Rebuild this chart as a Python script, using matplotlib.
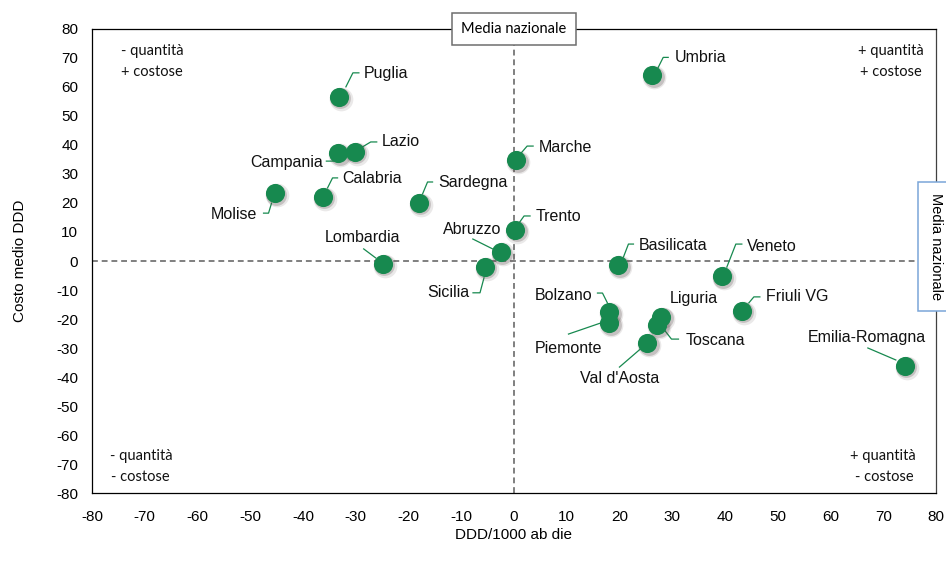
import matplotlib
matplotlib.use("Agg")
import matplotlib.pyplot as plt
import matplotlib.transforms as mtransforms

plt.rcParams["font.family"] = ["Liberation Sans", "DejaVu Sans"]
plt.rcParams["axes.unicode_minus"] = False

GREEN = "#17894f"
CALIBRI_LIKE = ["Lato", "DejaVu Sans"]

# scostamento dalla media nazionale per regione
regions = [
    "Puglia", "Lazio", "Campania", "Calabria", "Molise", "Sardegna", "Lombardia",
    "Abruzzo", "Sicilia", "Marche", "Trento", "Umbria", "Basilicata", "Veneto",
    "Bolzano", "Piemonte", "Liguria", "Toscana", "Val d'Aosta", "Friuli VG",
    "Emilia-Romagna",
]
ddd = [-33.2, -30.2, -33.3, -36.3, -45.4, -18.1, -24.9,
       -2.5, -5.5, 0.4, 0.2, 26.2, 19.8, 39.4,
       18.1, 18.1, 27.9, 27.2, 25.3, 43.2,
       74.1]
costo = [56.6, 37.6, 37.2, 22.1, 23.4, 20.0, -1.0,
         3.1, -2.0, 34.8, 10.7, 64.0, -1.4, -5.2,
         -17.6, -21.4, -19.3, -22.1, -28.3, -17.2,
         -36.2]

axis_ticks = list(range(-80, 81, 10))

# label placement: text offset in pixels (y down), alignment, leader vertices
label_layout = {
    "Puglia": ((25, -23), "left", [(7, -10), (14, -24), (20, -24)]),
    "Lazio": ((27, -10), "left", [(6, -4), (16, -10), (22, -10)]),
    "Campania": ((-15, 9), "right", [(-12, 8), (-5, 8), (-3, 5)]),
    "Calabria": ((20, -18), "left", [(5, -9), (10, -19), (15, -19)]),
    "Molise": ((-17, 21), "right", [(-11, 20), (-6, 20), (-3, 10)]),
    "Sardegna": ((20, -20), "left", [(4, -9), (9, -21), (14, -21)]),
    "Lombardia": ((-20, -26), "center", [(-19, -15), (-7, -6)]),
    "Abruzzo": ((-29, -23), "center", [(-28, -13), (-8, -3)]),
    "Sicilia": ((-16, 26), "right", [(-12, 26), (-5, 26), (-1, 11)]),
    "Marche": ((23, -13), "left", [(5, -7), (11, -14), (17, -14)]),
    "Trento": ((21, -13), "left", [(4, -7), (9, -14), (15, -14)]),
    "Umbria": ((23, -18), "left", [(6, -8), (11, -18), (16, -18)]),
    "Basilicata": ((20, -20), "left", [(5, -8), (10, -21), (15, -21)]),
    "Veneto": ((25, -30), "left", [(5, -9), (14, -32), (20, -32)]),
    "Bolzano": ((-17, -17), "right", [(-12, -19), (-7, -19), (-2, -9)]),
    "Piemonte": ((-41, 25), "center", [(-41, 11), (-9, 0)]),
    "Liguria": ((9, -18), "left", []),
    "Toscana": ((28, 15), "left", [(7, 5), (14, 14), (21, 14)]),
    "Val d'Aosta": ((-28, 35), "center", [(-28, 24), (-6, 5)]),
    "Friuli VG": ((24, -14), "left", [(7, -8), (12, -14), (18, -14)]),
    "Emilia-Romagna": ((-38, -28), "center", [(-37, -18), (-9, -6)]),
}

# testo dei quadranti: (testo, x px, y px, allineamento)
quadrant_notes = [
    ("- quantità", 121, 51, "left"), ("+ costose", 121, 72, "left"),
    ("+ quantità", 924, 51, "right"), ("+ costose", 922, 72, "right"),
    ("- quantità", 110, 456, "left"), ("- costose", 111, 477, "left"),
    ("+ quantità", 916, 456, "right"), ("- costose", 914, 477, "right"),
]

fig = plt.figure(figsize=(9.46, 5.65), dpi=100)
ax = fig.add_axes([0.0973, 0.1274, 0.8921, 0.8213])
ax.set_xlim(-80, 80)
ax.set_ylim(-80, 80)
ax.set_xticks(axis_ticks)
ax.set_yticks(axis_ticks)
ax.tick_params(length=0, labelsize=11)
ax.tick_params(axis="y", pad=10)
ax.tick_params(axis="x", pad=12)
for side in ("left", "bottom", "top"):
    ax.spines[side].set_color("black")
    ax.spines[side].set_linewidth(0.9)
ax.spines["right"].set_color("#404040")
ax.spines["right"].set_linewidth(0.9)

# linee della media nazionale
for line in (ax.axhline(0, color="#7f7f7f", lw=1.4, zorder=1),
             ax.axvline(0, color="#7f7f7f", lw=1.4, zorder=1)):
    line.set_dashes((3, 2))

# leader lines and labels, positioned in pixels around each point
for name, x, y in zip(regions, ddd, costo):
    (tx, ty), ha, leader = label_layout[name]
    if leader:
        bx, by = ax.transData.transform((x, y))
        base = mtransforms.Affine2D().translate(bx, by)
        ax.plot([p[0] for p in leader], [-p[1] for p in leader],
                color=GREEN, lw=0.9, transform=base, zorder=2, clip_on=False)
    ax.annotate(name, (x, y), xytext=(tx, -ty), textcoords="offset pixels",
                ha=ha, va="center", fontsize=11.5, color="#111111", zorder=5)

# soft shadow under the markers
for dx, dy, s, a in ((2, -2, 290, 0.12), (1.5, -1.5, 225, 0.25)):
    shadow = mtransforms.offset_copy(ax.transData, fig=fig, x=dx, y=dy, units="dots")
    ax.scatter(ddd, costo, s=s, color="#5a4a4a", alpha=a, lw=0,
               transform=shadow, zorder=3)
ax.scatter(ddd, costo, s=190, color=GREEN, lw=0, zorder=4)

# quadranti
for txt, xpx, ypx, ha in quadrant_notes:
    fig.text(xpx / 946, 1 - ypx / 565, txt, ha=ha, va="center",
             fontsize=10.5, family=CALIBRI_LIKE, color="#111111")

ax.text(0.5, 1.0, "Media nazionale", transform=ax.transAxes, ha="center",
        va="center", fontsize=10.5, family=CALIBRI_LIKE, zorder=6,
        bbox=dict(boxstyle="square,pad=0.62", fc="white", ec="#6e6e6e", lw=1.1))
ax.text(1.0, 85 / 160, "Media nazionale", transform=ax.transAxes, ha="center",
        va="center", rotation=-90, fontsize=10.5, zorder=6, clip_on=False,
        bbox=dict(boxstyle="square,pad=0.75", fc="white", ec="#7aa6d8", lw=1.1))

fig.text(20 / 946, 1 - 261 / 565, "Costo medio DDD", rotation=90,
         ha="center", va="center", fontsize=11)
fig.text(513 / 946, 1 - 535 / 565, "DDD/1000 ab die", ha="center",
         va="center", fontsize=11)

fig.savefig("out.png", dpi=100, facecolor="white")
